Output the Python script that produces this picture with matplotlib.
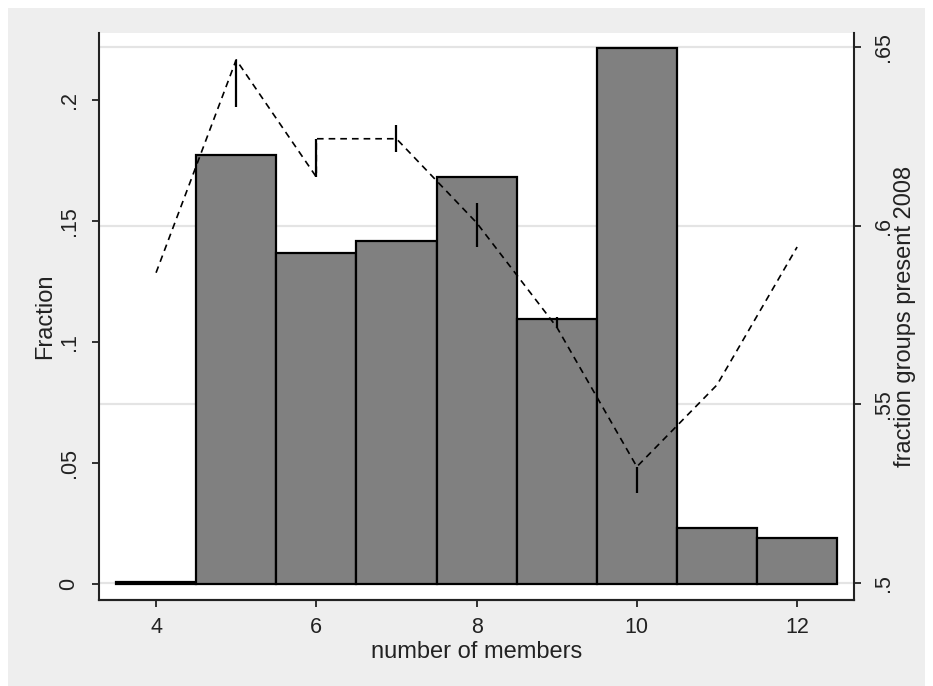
import matplotlib.pyplot as plt
from matplotlib.patches import Rectangle
from matplotlib.transforms import blended_transform_factory

# histogram of group size
members = [4, 5, 6, 7, 8, 9, 10, 11, 12]
fraction = [0.001, 0.1773, 0.1368, 0.1417, 0.1682, 0.1095, 0.2215, 0.0231, 0.0190]

# share of groups still present in 2008, by group size
line_x = [4, 5, 6, 6, 7, 8, 9, 10, 11, 12]
line_y = [0.5868, 0.6464, 0.6136, 0.6243, 0.6243, 0.6008, 0.5716, 0.5325, 0.5554, 0.5940]

# short vertical segments at repeated sizes
spike_x = [5, 6, 7, 8, 9, 10]
spike_lo = [0.6332, 0.6136, 0.6206, 0.5940, 0.5714, 0.5252]
spike_hi = [0.6464, 0.6243, 0.6282, 0.6064, 0.5744, 0.5325]

x_ticks = [4, 6, 8, 10, 12]
left_ticks = [0, 0.05, 0.1, 0.15, 0.2]
left_labels = ["0", ".05", ".1", ".15", ".2"]
right_ticks = [0.5, 0.55, 0.6, 0.65]
right_labels = [".5", ".55", ".6", ".65"]

plt.rcParams['font.family'] = ['Liberation Sans', 'DejaVu Sans']

fig = plt.figure(figsize=(9.33, 6.86), dpi=100, facecolor='white')
fig.patches.append(Rectangle((8 / 933, 0), 917 / 933, 678 / 686, transform=fig.transFigure,
                             facecolor='#eeeeee', edgecolor='none', zorder=-5))

ax = fig.add_axes([99 / 933, 1 - 600 / 686, 755 / 933, 567 / 686])
ax.set_facecolor('white')
ax.bar(members, fraction, width=1, color='#808080', edgecolor='black', linewidth=1.6, zorder=2)
ax.set_xlim(3.288, 12.71)
ax.set_ylim(-0.0066, 0.2277)

ax2 = ax.twinx()
ax2.set_ylim(0.4952, 0.6539)
ax2.plot(line_x, line_y, color='black', linestyle=(0, (4, 3)), linewidth=1.2)
ax2.vlines(spike_x, spike_lo, spike_hi, color='black', linewidth=1.6)

# gridlines follow the right axis but sit under the bars
trans = blended_transform_factory(ax.transAxes, ax2.transData)
for v in right_ticks:
    ax.plot([0, 1], [v, v], transform=trans, color='#e4e4e4', linewidth=1.6, zorder=1)
ax.set_ylim(-0.0066, 0.2277)

for a in (ax, ax2):
    a.spines['top'].set_visible(False)
    for s in a.spines.values():
        s.set_color('#222222')
        s.set_linewidth(1.5)
ax.spines['right'].set_visible(False)
ax2.spines['left'].set_visible(False)

ax.set_xticks(x_ticks)
ax.set_yticks(left_ticks)
ax.set_yticklabels(left_labels, rotation=90, va='center')
ax2.set_yticks(right_ticks)
ax2.set_yticklabels(right_labels, rotation=90, va='center')

ax.tick_params(axis='x', length=5, width=1.3, pad=7, labelsize=15.5, colors='#222222')
ax.tick_params(axis='y', length=5, width=1.3, pad=9, labelsize=15.5, colors='#222222')
ax2.tick_params(axis='y', length=5, width=1.3, pad=9, labelsize=15.5, colors='#222222')

ax.set_xlabel("number of members", fontsize=17, color='#222222', va='center')
ax.xaxis.set_label_coords(0.5, -0.092)
ax.set_ylabel("Fraction", fontsize=17, color='#222222', va='center')
ax.yaxis.set_label_coords(-0.0715, 0.5)
ax2.set_ylabel("fraction groups present 2008", fontsize=17, color='#222222', va='center', rotation=90)
ax2.yaxis.set_label_coords(1.0675, 0.5)

fig.savefig("out.png", dpi=100, facecolor=fig.get_facecolor())
